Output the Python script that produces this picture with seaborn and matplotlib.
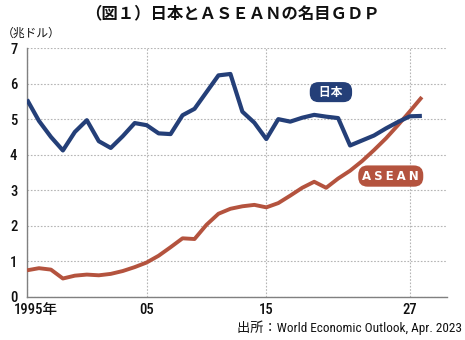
import matplotlib
matplotlib.use("Agg")
import matplotlib.pyplot as plt
import matplotlib.transforms as mtransforms
import seaborn as sns
import pandas as pd

# Nominal GDP, trillion US dollars (IMF WEO, Apr. 2023; 2023 onward projected)
years = list(range(1995, 2029))
japan = [5.55, 4.95, 4.50, 4.12, 4.64, 4.97, 4.38, 4.19, 4.52, 4.89,
         4.83, 4.60, 4.58, 5.11, 5.29, 5.76, 6.23, 6.27, 5.21, 4.90,
         4.44, 5.00, 4.93, 5.04, 5.12, 5.07, 5.03, 4.26, 4.40, 4.54,
         4.74, 4.92, 5.08, 5.09]
asean = [0.75, 0.81, 0.77, 0.52, 0.60, 0.63, 0.61, 0.65, 0.73, 0.84,
         0.97, 1.16, 1.40, 1.65, 1.63, 2.03, 2.34, 2.48, 2.55, 2.59,
         2.52, 2.64, 2.85, 3.07, 3.24, 3.07, 3.33, 3.55, 3.82, 4.13,
         4.46, 4.83, 5.22, 5.62]

xticks = [1995, 2005, 2015, 2027]
xticklabels = ["1995年", "05", "15", "27"]
yticks = list(range(0, 8))

NAVY = "#243f78"
RUST = "#b4533e"
GRID = "#b5b5b5"
SPINE = "#808080"

sns.set_theme(style="white")
plt.rcParams["font.family"] = ["Noto Sans CJK JP", "DejaVu Sans"]
NARROW = ["Roboto Condensed", "Noto Sans CJK JP"]

df = pd.DataFrame({"year": years, "日本": japan, "ASEAN": asean})

fig = plt.figure(figsize=(4.65, 3.4), dpi=100)
ax = fig.add_axes([27 / 465, 1 - 297 / 340, 420 / 465, 249 / 340])

sns.lineplot(data=df, x="year", y="ASEAN", color=RUST, linewidth=2.8,
             ax=ax, zorder=3, solid_capstyle="butt")
sns.lineplot(data=df, x="year", y="日本", color=NAVY, linewidth=3.0,
             ax=ax, zorder=4, solid_capstyle="butt")

ax.set_xlim(1995, 2030.1)
ax.set_ylim(0, 7)
ax.set_xlabel("")
ax.set_ylabel("")

ax.set_yticks(yticks)
ax.set_yticklabels([str(v) for v in yticks], family=NARROW, fontsize=10.5,
                   fontweight="medium", color="#111111")
ax.set_xticks(xticks)
ax.set_xticklabels(xticklabels, family=NARROW, fontsize=10.5,
                   fontweight="medium", color="#111111")
ax.tick_params(axis="y", length=0, pad=7)
ax.tick_params(axis="x", length=3, width=0.8, color=GRID, pad=1)

# keep the first year's digits centred on its tick, with 年 trailing
first = ax.get_xticklabels()[0]
first.set_horizontalalignment("left")
first.set_transform(first.get_transform()
                    + mtransforms.ScaledTranslation(-13 / 100, 0, fig.dpi_scale_trans))

ax.grid(True, axis="both", color=GRID, linestyle=(0, (1.5, 1.5)), linewidth=0.8)
for side in ("top", "right"):
    ax.spines[side].set_visible(False)
for side in ("left", "bottom"):
    ax.spines[side].set_color(SPINE)
    ax.spines[side].set_linewidth(1.0)
ax.set_axisbelow(True)

# series labels as rounded tags
ax.text(2020.4, 5.76, "\u2002日本\u2002", color="white", fontsize=8.5,
        fontweight="bold", ha="center", va="center", zorder=6,
        family=["Noto Sans CJK JP", "DejaVu Sans"],
        bbox=dict(boxstyle="round,pad=0.3,rounding_size=0.75", fc=NAVY, ec="none"))
ax.text(2025.4, 3.40, "A\u2005S\u2005E\u2005A\u2005N", color="white", fontsize=8.5,
        fontweight="bold", family=["DejaVu Sans"], ha="center", va="center",
        zorder=6,
        bbox=dict(boxstyle="round,pad=0.35,rounding_size=0.8", fc=RUST, ec="none"))

fig.text(232 / 465, 1 - 13 / 340, "（図１）日本とＡＳＥＡＮの名目ＧＤＰ",
         ha="center", va="center", fontsize=11.8, fontweight="bold", color="#111111")
fig.text(2 / 465, 1 - 33 / 340, "（兆ドル）", ha="left", va="center",
         fontsize=8.5, color="#111111")
fig.text(462 / 465, 1 - 328 / 340, "出所：World Economic Outlook, Apr. 2023",
         ha="right", va="center", fontsize=9.5, family=NARROW, color="#111111")

fig.savefig("out.png", dpi=100, facecolor="white")
